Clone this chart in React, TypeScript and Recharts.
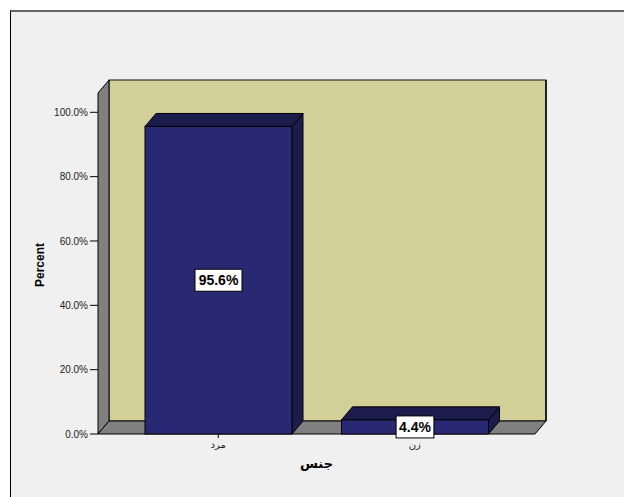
import React from 'react';
import { BarChart, Bar, XAxis, YAxis, ReferenceArea, LabelList } from 'recharts';

const categories = ['مرد', 'زن'];
const percents = [95.6, 4.4];
const yTicks = [0, 20, 40, 60, 80, 100];

const data = categories.map((c, i) => ({ name: c, value: percents[i] }));

const DX = 11;
const DY = 13;
const PAD = 22;
const FONT = 'Arial, "Liberation Sans", "DejaVu Sans", sans-serif';

const Box3D = (props: any) => {
  const x = props.x - PAD;
  const w = props.width + 2 * PAD;
  const { y, height: h } = props;
  return (
    <g>
      <rect x={x + DX} y={y - DY} width={w} height={h} fill="#d3cf99" stroke="#111" strokeWidth={1} />
      <line x1={x + DX + w} y1={y - DY} x2={x + DX + w} y2={y + h - DY} stroke="#222" strokeWidth={2} />
      <polygon
        points={`${x},${y} ${x + DX},${y - DY} ${x + DX},${y + h - DY} ${x},${y + h}`}
        fill="#808080"
        stroke="#000"
        strokeWidth={1}
      />
      <polygon
        points={`${x},${y + h} ${x + DX},${y + h - DY} ${x + w + DX},${y + h - DY} ${x + w},${y + h}`}
        fill="#808080"
        stroke="#000"
        strokeWidth={1}
      />
    </g>
  );
};

const Bar3D = (props: any) => {
  const { x, y, width: w, height: h } = props;
  if (w == null || h == null) return null;
  return (
    <g>
      <polygon
        points={`${x + w},${y} ${x + w + DX},${y - DY} ${x + w + DX},${y + h - DY} ${x + w},${y + h}`}
        fill="#1c1c4c"
        stroke="#000"
        strokeWidth={1}
      />
      <polygon
        points={`${x},${y} ${x + DX},${y - DY} ${x + w + DX},${y - DY} ${x + w},${y}`}
        fill="#1c1c4c"
        stroke="#000"
        strokeWidth={1}
      />
      <rect x={x} y={y} width={w} height={h} fill="#282873" stroke="#000" strokeWidth={1} />
    </g>
  );
};

const ValueLabel = (props: any) => {
  const { x, y, width, height, value } = props;
  const txt = `${Number(value).toFixed(1)}%`;
  const bw = txt.length * 9.2 + 1;
  const bh = 22;
  const cx = x + width / 2;
  const cy = y + height / 2;
  return (
    <g>
      <rect x={cx - bw / 2} y={cy - bh / 2} width={bw} height={bh} fill="#fff" stroke="#000" strokeWidth={1} />
      <text x={cx} y={cy + 5} textAnchor="middle" fontFamily={FONT} fontWeight="bold" fontSize={14} fill="#000">
        {txt}
      </text>
    </g>
  );
};

export default function App() {
  return (
    <div style={{ position: 'absolute', left: 0, top: 0, width: 624, height: 497, background: '#fff' }}>
      <div
        style={{
          position: 'absolute',
          left: 10,
          top: 10,
          right: 0,
          bottom: 0,
          background: '#f0f0f0',
          borderLeft: '1px solid #000',
          borderTop: '2px solid #666',
        }}
      />
      <div style={{ position: 'absolute', left: 0, top: 0 }}>
        <BarChart
          width={624}
          height={497}
          data={data}
          margin={{ top: 93, right: 89, bottom: 23, left: 0 }}
          barSize={147}
        >
          <XAxis
            dataKey="name"
            height={40}
            axisLine={false}
            tickLine={{ stroke: '#000' }}
            tickSize={4}
            tickMargin={3}
            padding={{ left: PAD, right: PAD }}
            tick={{ fontSize: 10, fill: '#222', fontFamily: FONT }}
            label={{
              content: (p: any) => {
                const vb = p.viewBox || {};
                return (
                  <text
                    x={vb.x + vb.width / 2}
                    y={468}
                    textAnchor="middle"
                    fontFamily={FONT}
                    fontWeight="bold"
                    fontSize={13}
                    fill="#000"
                  >
                    جنس
                  </text>
                );
              },
            }}
          />
          <YAxis
            width={98}
            domain={[0, 106]}
            ticks={yTicks}
            axisLine={false}
            tickLine={{ stroke: '#000' }}
            tickSize={8}
            tickMargin={2}
            tick={{ fontSize: 10, fill: '#222', fontFamily: FONT }}
            tickFormatter={(v: number) => `${v.toFixed(1)}%`}
            label={{
              content: () => (
                <text
                  x={44}
                  y={265}
                  transform="rotate(-90 44 265)"
                  textAnchor="middle"
                  fontFamily={FONT}
                  fontWeight="bold"
                  fontSize={12}
                  fill="#000"
                >
                  Percent
                </text>
              ),
            }}
          />
          <ReferenceArea y1={0} y2={106} ifOverflow="visible" shape={Box3D} />
          <Bar dataKey="value" isAnimationActive={false} shape={Bar3D}>
            <LabelList dataKey="value" content={ValueLabel} />
          </Bar>
        </BarChart>
      </div>
    </div>
  );
}
